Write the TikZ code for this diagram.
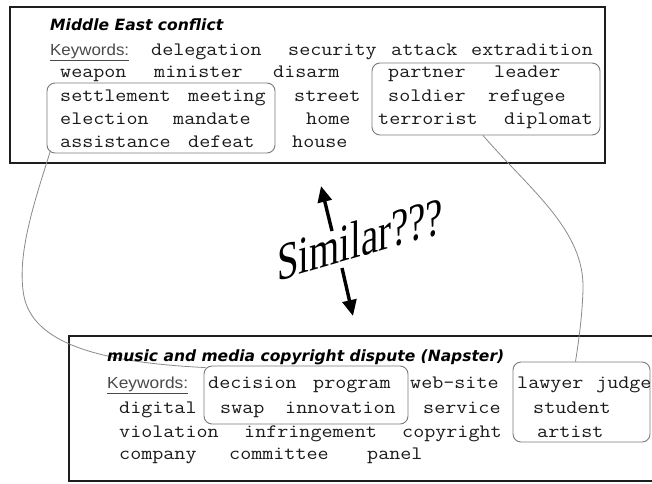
\documentclass[tikz,border=0pt]{standalone}
\usepackage{fontspec}
\usepackage{graphicx}
\setmainfont{Liberation Serif}
\newfontfamily\titlef{DejaVu Sans}
\newfontfamily\kwf{Liberation Sans}
\usetikzlibrary{arrows.meta}
\definecolor{wordc}{HTML}{1A1A1A}
\definecolor{boxc}{HTML}{1E1E1E}
\definecolor{grpc}{HTML}{7A7A7A}
\definecolor{linkc}{HTML}{8A8A8A}
\definecolor{kwc}{HTML}{4A4A4A}
\newcommand\mw[1]{\scalebox{1.13}[1]{\ttfamily\fontsize{19}{20}\selectfont #1}}
\begin{document}
\begin{tikzpicture}[x=1pt,y=-1pt,
  word/.style={anchor=base west, inner sep=0pt, text=wordc},
  ttl/.style={anchor=base west, inner sep=0pt, text=black},
  kwlabel/.style={anchor=base west, inner sep=0pt, text=kwc},
  mainbox/.style={draw=boxc, line width=2.4pt, fill=none, inner sep=0pt},
  grp/.style={draw=grpc, line width=0.9pt, rounded corners=8pt, inner sep=0pt},
  link/.style={draw=linkc, line width=0.8pt},
  bigarrow/.style={line width=3.4pt, -{Triangle[length=16pt,width=14pt]}}]
\useasboundingbox (0,0) rectangle (652,483);
\clip (0,0) rectangle (652,483);
\fill[white] (0,0) rectangle (652,483);

% main boxes
\node[mainbox, minimum width=595pt, minimum height=156pt] (topbox) at (307.5,85) {};
\node[mainbox, minimum width=631pt, minimum height=145pt] (botbox) at (384.5,408.5) {};

% groups
\node[grp, minimum width=228pt, minimum height=70pt] (grpA) at (161,118) {};
\node[grp, minimum width=228pt, minimum height=72pt] (grpB) at (486,99) {};
\node[grp, minimum width=204pt, minimum height=58pt] (grpC) at (306,395) {};
\node[grp, minimum width=137pt, minimum height=80pt] (grpD) at (581.5,402) {};

% connectors
\draw[link] ([xshift=4pt,yshift=3pt]grpA.south west) .. controls (35,200) and (18,250) .. (23,290)
  .. controls (28,340) and (90,362) .. ([xshift=2pt,yshift=-2pt]grpC.north west);
\draw[link] ([xshift=-3pt]grpB.south) .. controls (530,190) and (585,230) .. (583,290)
  .. controls (582,320) and (578,345) .. ([xshift=-6pt]grpD.north);

% top box text
\node[ttl] (titleA) at (50,30) {\resizebox{173pt}{\height}{\titlef\bfseries\itshape\fontsize{15.5}{18}\selectfont Middle East conflict}};
\node[kwlabel] (kwA) at (50,55) {\resizebox{79pt}{\height}{\kwf\fontsize{16}{18}\selectfont\underline{Keywords:}}};
\node[word] (delegation) at (151,55) {\mw{delegation}};
\node[word] (security) at (288,55) {\mw{security}};
\node[word] (attack) at (391,55) {\mw{attack}};
\node[word] (extradition) at (471,55) {\mw{extradition}};
\node[word] (weapon) at (60,77) {\mw{weapon}};
\node[word] (minister) at (154,77) {\mw{minister}};
\node[word] (disarm) at (273,77) {\mw{disarm}};
\node[word] (partner) at (388,77) {\mw{partner}};
\node[word] (leader) at (494,77) {\mw{leader}};
\node[word] (settlement) at (60,101) {\mw{settlement}};
\node[word] (meeting) at (188,101) {\mw{meeting}};
\node[word] (street) at (294,101) {\mw{street}};
\node[word] (soldier) at (388,101) {\mw{soldier}};
\node[word] (refugee) at (488,101) {\mw{refugee}};
\node[word] (election) at (60,124) {\mw{election}};
\node[word] (mandate) at (173,124) {\mw{mandate}};
\node[word] (home) at (306,124) {\mw{home}};
\node[word] (terrorist) at (378,124) {\mw{terrorist}};
\node[word] (diplomat) at (504,124) {\mw{diplomat}};
\node[word] (assistance) at (60,147) {\mw{assistance}};
\node[word] (defeat) at (188,147) {\mw{defeat}};
\node[word] (house) at (292,147) {\mw{house}};

% bottom box text
\node[ttl] (titleB) at (107,361) {\resizebox{397pt}{\height}{\titlef\bfseries\itshape\fontsize{15.5}{18}\selectfont music and media copyright dispute (Napster)}};
\node[kwlabel] (kwB) at (107,388) {\resizebox{81pt}{\height}{\kwf\fontsize{16}{18}\selectfont\underline{Keywords:}}};
\node[word] (decision) at (208,388) {\mw{decision}};
\node[word] (program) at (313,388) {\mw{program}};
\node[word] (website) at (410,388) {\mw{web-site}};
\node[word] (lawyer) at (517,388) {\mw{lawyer}};
\node[word] (judge) at (596,388) {\mw{judge}};
\node[word] (digital) at (119,413) {\mw{digital}};
\node[word] (swap) at (220,413) {\mw{swap}};
\node[word] (innovation) at (285,413) {\mw{innovation}};
\node[word] (service) at (423,413) {\mw{service}};
\node[word] (student) at (533,413) {\mw{student}};
\node[word] (violation) at (119,437) {\mw{violation}};
\node[word] (infringement) at (244,437) {\mw{infringement}};
\node[word] (copyright) at (402,437) {\mw{copyright}};
\node[word] (artist) at (537,437) {\mw{artist}};
\node[word] (company) at (119,459) {\mw{company}};
\node[word] (committee) at (229,459) {\mw{committee}};
\node[word] (panel) at (367,459) {\mw{panel}};

% similar
\node[yslant=0.29, inner sep=0pt] (similar) at (360,239) {\scalebox{1}[1.37]{\fontsize{38.8}{41}\selectfont Similar???}};
\coordinate (upTail) at (332,231);
\coordinate (upTip) at (321,186);
\coordinate (dnTail) at (342,268);
\coordinate (dnTip) at (353,316);
\draw[bigarrow] (upTail) -- (upTip);
\draw[bigarrow] (dnTail) -- (dnTip);
\end{tikzpicture}
\end{document}
